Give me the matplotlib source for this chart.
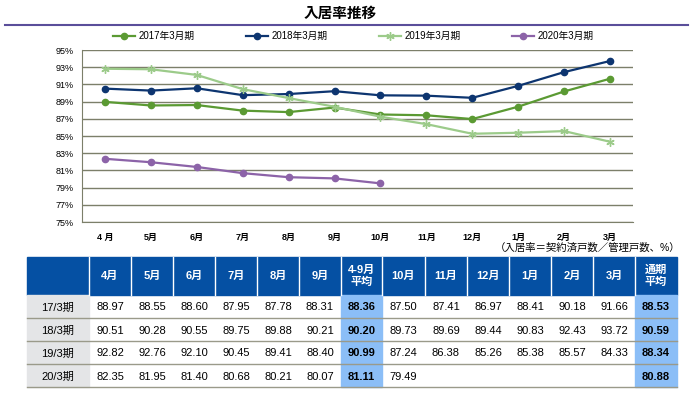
import numpy as np
import matplotlib.pyplot as plt
from matplotlib.patches import Rectangle

plt.rcParams['font.family'] = ['Liberation Sans', 'Noto Sans CJK JP']

months = ["4 月", "5月", "6月", "7月", "8月", "9月", "10月", "11月", "12月", "1月", "2月", "3月"]
table_months = ["4月", "5月", "6月", "7月", "8月", "9月", "10月", "11月", "12月", "1月", "2月", "3月"]
series_names = ["2017年3月期", "2018年3月期", "2019年3月期", "2020年3月期"]
row_names = ["17/3期", "18/3期", "19/3期", "20/3期"]

fy2017 = [88.97, 88.55, 88.60, 87.95, 87.78, 88.31, 87.50, 87.41, 86.97, 88.41, 90.18, 91.66]
fy2018 = [90.51, 90.28, 90.55, 89.75, 89.88, 90.21, 89.73, 89.69, 89.44, 90.83, 92.43, 93.72]
fy2019 = [92.82, 92.76, 92.10, 90.45, 89.41, 88.40, 87.24, 86.38, 85.26, 85.38, 85.57, 84.33]
fy2020 = [82.35, 81.95, 81.40, 80.68, 80.21, 80.07, 79.49]
half_avg = [88.36, 90.20, 90.99, 81.11]
year_avg = [88.53, 90.59, 88.34, 80.88]

colors = ["#5b9a33", "#0d3570", "#9ccb8a", "#8c63a8"]

fig = plt.figure(figsize=(6.96, 3.93), dpi=100)

# title + rule
fig.text(340/696, 1-14/393, "入居率推移", ha="center", va="center", fontsize=10.5, fontweight="bold")
fig.add_artist(plt.Line2D([5/696, 688/696], [1-25/393, 1-25/393], color="#5a4e9a", lw=1.5))

ax = fig.add_axes([82/696, 1-222/393, 551/696, 172/393])
x = np.arange(12)
ax.plot(x, fy2017, color=colors[0], lw=1.6, marker="o", ms=4.5, label=series_names[0])
ax.plot(x, fy2018, color=colors[1], lw=1.6, marker="o", ms=4.5, label=series_names[1])
ax.plot(x, fy2019, color=colors[2], lw=1.6, marker=(6, 2, 0), ms=6, mew=1, label=series_names[2])
ax.plot(np.arange(len(fy2020)), fy2020, color=colors[3], lw=1.6, marker="o", ms=4.5, label=series_names[3])

ax.set_xlim(-0.5, 11.5)
ax.set_ylim(75, 95)
ax.set_yticks(np.arange(75, 96, 2))
ax.set_yticklabels([f"{v}%" for v in range(75, 96, 2)])
ax.set_xticks(x)
ax.set_xticklabels(months)
ax.yaxis.grid(True, color="#7c7f6a", lw=1)
ax.set_axisbelow(True)
for s in ["top", "right"]:
    ax.spines[s].set_visible(False)
for s in ["left", "bottom"]:
    ax.spines[s].set_color("#7c7f6a")
ax.tick_params(axis="both", length=0, labelsize=6.5, pad=6)
ax.tick_params(axis="x", pad=8)
for t in ax.get_xticklabels():
    t.set_fontweight("bold")

ax.legend(loc="center left", bbox_to_anchor=(31/551, 1 + 14/172), ncol=4, frameon=False,
          fontsize=7, columnspacing=5.3, handlelength=2.3, handletextpad=0.3,
          borderpad=0, borderaxespad=0)

fig.text(680/696, 1-248/393, "（入居率＝契約済戸数／管理戸数、%）", ha="right", va="center", fontsize=7.5)

# table
tab = fig.add_axes([0, 0, 1, 1])
tab.set_xlim(0, 696)
tab.set_ylim(393, 0)
tab.axis("off")

col_edges = [27, 89, 131, 173, 215, 257, 299, 341, 382, 425, 467, 509, 551, 593, 635, 677]
head_top, head_bot = 257, 295
row_h = 23
header = [""] + table_months[:6] + ["4-9月\n平均"] + table_months[6:] + ["通期\n平均"]
dark = "#0550a3"
light = "#8bbef7"
gray = "#e4e5e7"

tab.add_patch(Rectangle((col_edges[0], head_top), col_edges[-1]-col_edges[0], head_bot-head_top, color=dark))
for i, h in enumerate(header):
    cx = (col_edges[i] + col_edges[i+1]) / 2
    tab.text(cx, (head_top+head_bot)/2, h, ha="center", va="center", color="white",
             fontsize=8, fontweight="bold", linespacing=1.3)
    if i > 0:
        tab.plot([col_edges[i], col_edges[i]], [head_top, head_bot], color="white", lw=1)

all_rows = [fy2017, fy2018, fy2019, fy2020]
for r in range(4):
    y0 = head_bot + r*row_h
    yc = y0 + row_h/2 + 1
    tab.add_patch(Rectangle((col_edges[0], y0), col_edges[1]-col_edges[0], row_h, color=gray))
    tab.add_patch(Rectangle((col_edges[7], y0), col_edges[8]-col_edges[7], row_h, color=light))
    tab.add_patch(Rectangle((col_edges[14], y0), col_edges[15]-col_edges[14], row_h, color=light))
    tab.text((col_edges[0]+col_edges[1])/2, yc, row_names[r], ha="center", va="center", fontsize=8)
    vals = all_rows[r]
    cells = [f"{v:.2f}" for v in vals[:6]] + [None] + [f"{v:.2f}" for v in vals[6:]]
    for j, c in enumerate(cells):
        if c is None:
            continue
        ci = j + 1
        tab.text((col_edges[ci]+col_edges[ci+1])/2, yc, c, ha="center", va="center", fontsize=8)
    tab.text((col_edges[7]+col_edges[8])/2, yc, f"{half_avg[r]:.2f}", ha="center", va="center",
             fontsize=8, fontweight="bold")
    tab.text((col_edges[14]+col_edges[15])/2, yc, f"{year_avg[r]:.2f}", ha="center", va="center",
             fontsize=8, fontweight="bold")
    tab.plot([col_edges[0], col_edges[-1]], [y0+row_h, y0+row_h], color="#9a9a8a", lw=1)

fig.savefig("out.png", dpi=100)
